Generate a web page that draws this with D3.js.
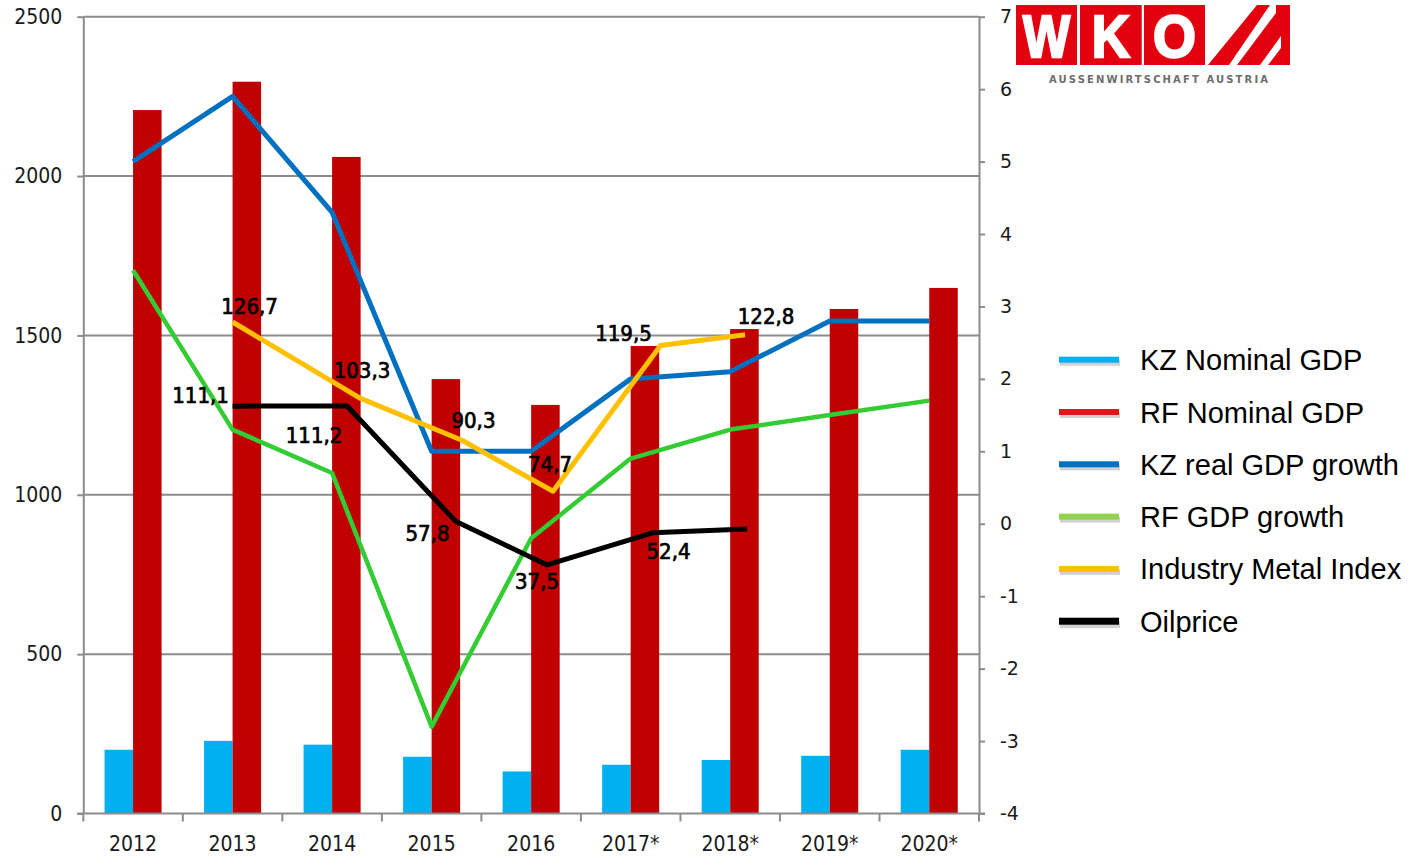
<!DOCTYPE html>
<html><head><meta charset="utf-8">
<script src="https://cdn.jsdelivr.net/npm/d3@7"></script>
<style>body{margin:0;background:#fff}svg{display:block}</style>
</head><body>
<svg id="chart" width="1411" height="856"></svg>
<script>
// ---------- DATA ----------
const categories = ["2012","2013","2014","2015","2016","2017*","2018*","2019*","2020*"];
const kzNominalGDP = [200, 228, 216, 178, 132, 153, 168, 181, 200];
const rfNominalGDP = [2207, 2296, 2060, 1363, 1282, 1467, 1520, 1583, 1649];
const kzRealGrowth = [5.0, 5.9, 4.3, 1.0, 1.0, 2.0, 2.1, 2.8, 2.8];
const rfGrowth     = [3.5, 1.3, 0.7, -2.8, -0.2, 0.9, 1.3, 1.5, 1.7];
// Industry metal index and oil price (own hidden axes, points at fractional year positions)
const metalYears = [2013.0, 2014.28, 2015.31, 2016.22, 2017.30, 2018.15];
const metalIndex = [126.7, 103.3, 90.3, 74.7, 119.5, 122.8];
const oilYears   = [2013.0, 2014.15, 2015.24, 2016.16, 2017.22, 2018.17];
const oilPrice   = [111.1, 111.2, 57.8, 37.5, 52.4, 54.2];
const oilLabelled = [true, true, true, true, true, false];
const leftTicks  = [0, 500, 1000, 1500, 2000, 2500];
const rightTicks = [-4, -3, -2, -1, 0, 1, 2, 3, 4, 5, 6, 7];
const metalAxisDomain = [-24.3, 220.5];
const oilAxisDomain   = [-77.7, 291.6];
const legendNames = ["KZ Nominal GDP","RF Nominal GDP","KZ real GDP growth","RF GDP growth","Industry Metal Index","Oilprice"];

// ---------- LAYOUT / STYLE ----------
const plotL = 83.3, plotR = 979, plotT = 16.7, plotB = 813.5;
const metalLabelOffsets = [[17,-8],[2,-20],[11,-12],[-3,-19],[-37,-4],[21,-11]];
const oilLabelOffsets   = [[-32,-3],[-33,37],[-28,20],[-10,24],[16,26],[0,0]];
const legendColors = ["#00B0F0","#E0161C","#0070C0","#92D050","#FFC000","#000000"];
const axisColor = "#8c8c8c";
const condensed = "'DejaVu Sans Condensed','DejaVu Sans',sans-serif";

const svg = d3.select("#chart");

const x0 = d3.scaleBand().domain(categories).range([plotL, plotR]).paddingInner(0.427).paddingOuter(0.2135);
const x1 = d3.scaleBand().domain(["kz","rf"]).range([0, x0.bandwidth()]);
const xc = c => x0(c) + x0.bandwidth()/2;
const xYear = d3.scaleLinear().domain([2012, 2020]).range([xc(categories[0]), xc(categories[8])]);
const yLeft = d3.scaleLinear().domain([0, 2500]).range([plotB, plotT]);
const yRight = d3.scaleLinear().domain([-4, 7]).range([plotB, plotT]);
const yMetal = d3.scaleLinear().domain(metalAxisDomain).range([plotB, plotT]);
const yOil = d3.scaleLinear().domain(oilAxisDomain).range([plotB, plotT]);

// gridlines
svg.append("g").selectAll("line").data(leftTicks.filter(d=>d>0)).join("line")
  .attr("x1", plotL).attr("x2", plotR)
  .attr("y1", d=>yLeft(d)).attr("y2", d=>yLeft(d))
  .attr("stroke", axisColor).attr("stroke-width", 2);

// bars
const g = svg.append("g");
g.selectAll("rect.kz").data(kzNominalGDP).join("rect").attr("class","kz")
  .attr("x",(d,i)=>x0(categories[i])+x1("kz")).attr("width",x1.bandwidth())
  .attr("y",d=>yLeft(d)).attr("height",d=>yLeft(0)-yLeft(d)).attr("fill","#00B0F0");
g.selectAll("rect.rf").data(rfNominalGDP).join("rect").attr("class","rf")
  .attr("x",(d,i)=>x0(categories[i])+x1("rf")).attr("width",x1.bandwidth())
  .attr("y",d=>yLeft(d)).attr("height",d=>yLeft(0)-yLeft(d)).attr("fill","#C00000");

// axes
function styleAxis(sel){
  sel.selectAll("path.domain").attr("stroke", axisColor).attr("stroke-width", 2);
  sel.selectAll(".tick line").attr("stroke", axisColor).attr("stroke-width", 2);
  sel.selectAll("text").attr("fill","#1a1a1a");
}
const axL = svg.append("g").attr("transform",`translate(${plotL},0)`)
  .call(d3.axisLeft(yLeft).tickValues(leftTicks).tickSize(6).tickSizeOuter(0).tickPadding(15).tickFormat(d3.format("d")));
axL.attr("font-family", condensed).attr("font-size", 21).style("font-stretch","condensed");
styleAxis(axL);

const axR = svg.append("g").attr("transform",`translate(${plotR},0)`)
  .call(d3.axisRight(yRight).tickValues(rightTicks).tickSize(6).tickSizeOuter(0).tickPadding(15).tickFormat(d=>String(d)));
axR.attr("font-family","'DejaVu Sans',sans-serif").attr("font-size",19);
styleAxis(axR);

const axB = svg.append("g").attr("transform",`translate(0,${plotB})`)
  .call(d3.axisBottom(x0).tickSize(0).tickSizeOuter(0).tickPadding(22.5));
axB.attr("font-family", condensed).attr("font-size", 21).style("font-stretch","condensed");
axB.select("path.domain").remove();
styleAxis(axB);
// bottom axis line and boundary ticks
const bounds = categories.map(c=>x0(c) - x0.step()*x0.paddingInner()/2).concat([plotR]);
bounds[0] = plotL;
svg.append("line").attr("x1", plotL-6).attr("x2", plotR+6).attr("y1", plotB).attr("y2", plotB)
  .attr("stroke", axisColor).attr("stroke-width", 2);
svg.append("g").selectAll("line").data(bounds).join("line")
  .attr("x1",d=>d).attr("x2",d=>d).attr("y1",plotB).attr("y2",plotB+8)
  .attr("stroke", axisColor).attr("stroke-width", 2);

// lines
const lineCat = d3.line().x((d,i)=>xc(categories[i])).y(d=>yRight(d));
svg.append("path").datum(rfGrowth).attr("d", lineCat).attr("fill","none")
  .attr("stroke","#33CC33").attr("stroke-width",4.5).attr("stroke-linejoin","round");
svg.append("path").datum(kzRealGrowth).attr("d", lineCat).attr("fill","none")
  .attr("stroke","#0070C0").attr("stroke-width",5).attr("stroke-linejoin","round");
svg.append("path").datum(metalIndex)
  .attr("d", d3.line().x((d,i)=>xYear(metalYears[i])).y(d=>yMetal(d)))
  .attr("fill","none").attr("stroke","#FFC000").attr("stroke-width",5).attr("stroke-linejoin","round");
svg.append("path").datum(oilPrice)
  .attr("d", d3.line().x((d,i)=>xYear(oilYears[i])).y(d=>yOil(d)))
  .attr("fill","none").attr("stroke","#000").attr("stroke-width",5).attr("stroke-linejoin","round");

// data labels
const fmt = v => d3.format(".1f")(v).replace(".", ",");
const lab = svg.append("g").attr("font-family", condensed).style("font-stretch","condensed")
  .attr("font-size", 22).attr("fill","#000").attr("stroke","#000").attr("stroke-width",0.7).attr("text-anchor","middle");
lab.selectAll("text.m").data(metalIndex).join("text").attr("class","m")
  .attr("x",(d,i)=>xYear(metalYears[i]) + metalLabelOffsets[i][0])
  .attr("y",(d,i)=>yMetal(d) + metalLabelOffsets[i][1]).text(fmt);
lab.selectAll("text.o").data(oilPrice.filter((d,i)=>oilLabelled[i])).join("text").attr("class","o")
  .attr("x",(d,i)=>xYear(oilYears[i]) + oilLabelOffsets[i][0])
  .attr("y",(d,i)=>yOil(d) + oilLabelOffsets[i][1]).text(fmt);

// legend
const leg = svg.append("g").attr("transform","translate(1059,359.7)");
const items = leg.selectAll("g").data(legendNames).join("g").attr("transform",(d,i)=>`translate(0,${i*52.3})`);
items.append("rect").attr("x",1).attr("y",0).attr("width",60).attr("height",(d,i)=>i===5?7:6)
  .attr("fill","#000").attr("opacity",0.18);
items.append("rect").attr("x",0).attr("y",(d,i)=>i===5?-3.5:-3).attr("width",60).attr("height",(d,i)=>i===5?7:6)
  .attr("fill",(d,i)=>legendColors[i]);
items.append("text").attr("x",81).attr("y",10.5).text(d=>d)
  .attr("font-family","'Liberation Sans',Arial,sans-serif").attr("font-size",29).attr("fill","#000");

// logo
const logo = svg.append("g");
const red = "#E3000F";
[[1016,61,"W",47],[1080,61.7,"K",38],[1144,61,"O",43]].forEach(([x,w,t,tw])=>{
  logo.append("rect").attr("x",x).attr("y",5).attr("width",w).attr("height",60).attr("fill",red);
  logo.append("text").attr("x",x+w/2).attr("y",57).attr("text-anchor","middle")
    .attr("font-family","'Liberation Sans',Arial,sans-serif").attr("font-weight","bold").attr("font-size",60)
    .attr("fill","#fff").attr("stroke","#fff").attr("stroke-width",2.5)
    .attr("textLength",tw).attr("lengthAdjust","spacingAndGlyphs").text(t);
});
logo.append("polygon").attr("points","1205,5 1290,5 1290,65 1205,65").attr("fill",red);
logo.append("polygon").attr("points","1205,5 1257,5 1208,65 1205,65").attr("fill","#fff");
logo.append("polygon").attr("points","1229,65 1237,65 1276,13 1276,5 1270,5").attr("fill","#fff");
logo.append("polygon").attr("points","1260,65 1268,65 1281,48 1281,36").attr("fill","#fff");
logo.append("text").attr("x",1049).attr("y",83.3).attr("textLength",219).attr("lengthAdjust","spacing")
  .attr("font-family","'DejaVu Sans',sans-serif").attr("font-weight","bold").attr("font-size",10)
  .attr("fill","#6d6d6d").text("AUSSENWIRTSCHAFT AUSTRIA");
</script>
</body></html>
